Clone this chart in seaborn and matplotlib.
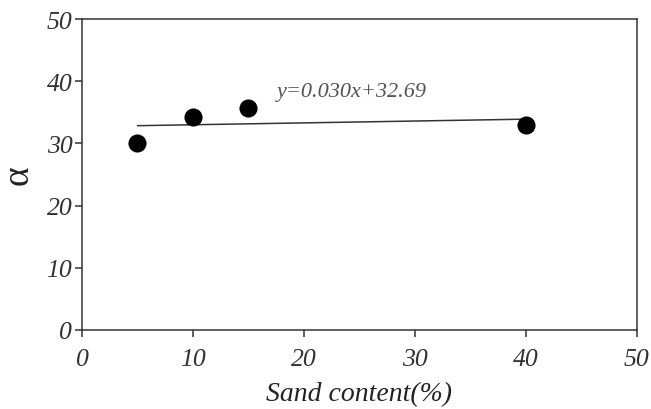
import matplotlib
matplotlib.use("Agg")
import matplotlib.pyplot as plt
import seaborn as sns
import pandas as pd

# data
sand_content = [5, 10, 15, 40]
alpha_values = [30.0, 34.2, 35.7, 33.0]
fit_label = "y=0.030x+32.69"

df = pd.DataFrame({"sand": sand_content, "alpha": alpha_values})

sns.set_theme(style="ticks")
plt.rcParams["font.family"] = ["Liberation Serif", "DejaVu Serif"]

fig = plt.figure(figsize=(6.51, 4.10), dpi=100)
ax = fig.add_axes([0.126, 0.193, 0.852, 0.758])

# regression line (least squares gives the same slope/intercept as the label)
sns.regplot(data=df, x="sand", y="alpha", ax=ax, scatter=False, ci=None,
            truncate=True, color="#333333", line_kws={"linewidth": 1.1})
sns.scatterplot(data=df, x="sand", y="alpha", ax=ax, color="black",
                s=170, edgecolor="black", linewidth=0, zorder=3)

ax.text(17.6, 38.4, fit_label, fontsize=16, style="italic", color="#555555",
        va="center", ha="left")

ax.set_xlim(0, 50)
ax.set_ylim(0, 50)
ax.set_xticks(range(0, 51, 10))
ax.set_yticks(range(0, 51, 10))

for s in ax.spines.values():
    s.set_color("#333333")
    s.set_linewidth(1.1)
ax.tick_params(axis="both", direction="out", length=5, width=1.1,
               color="#333333", labelsize=18.5, labelcolor="#333333")
ax.tick_params(axis="x", pad=8)
ax.tick_params(axis="y", pad=2)
for lbl in ax.get_xticklabels() + ax.get_yticklabels():
    lbl.set_style("italic")

ax.set_xlabel("Sand content(%)", fontsize=20, style="italic", color="#222222",
              labelpad=8)
ax.set_ylabel("α", fontsize=27, color="#222222", labelpad=8)

fig.savefig("out.png", dpi=100)
